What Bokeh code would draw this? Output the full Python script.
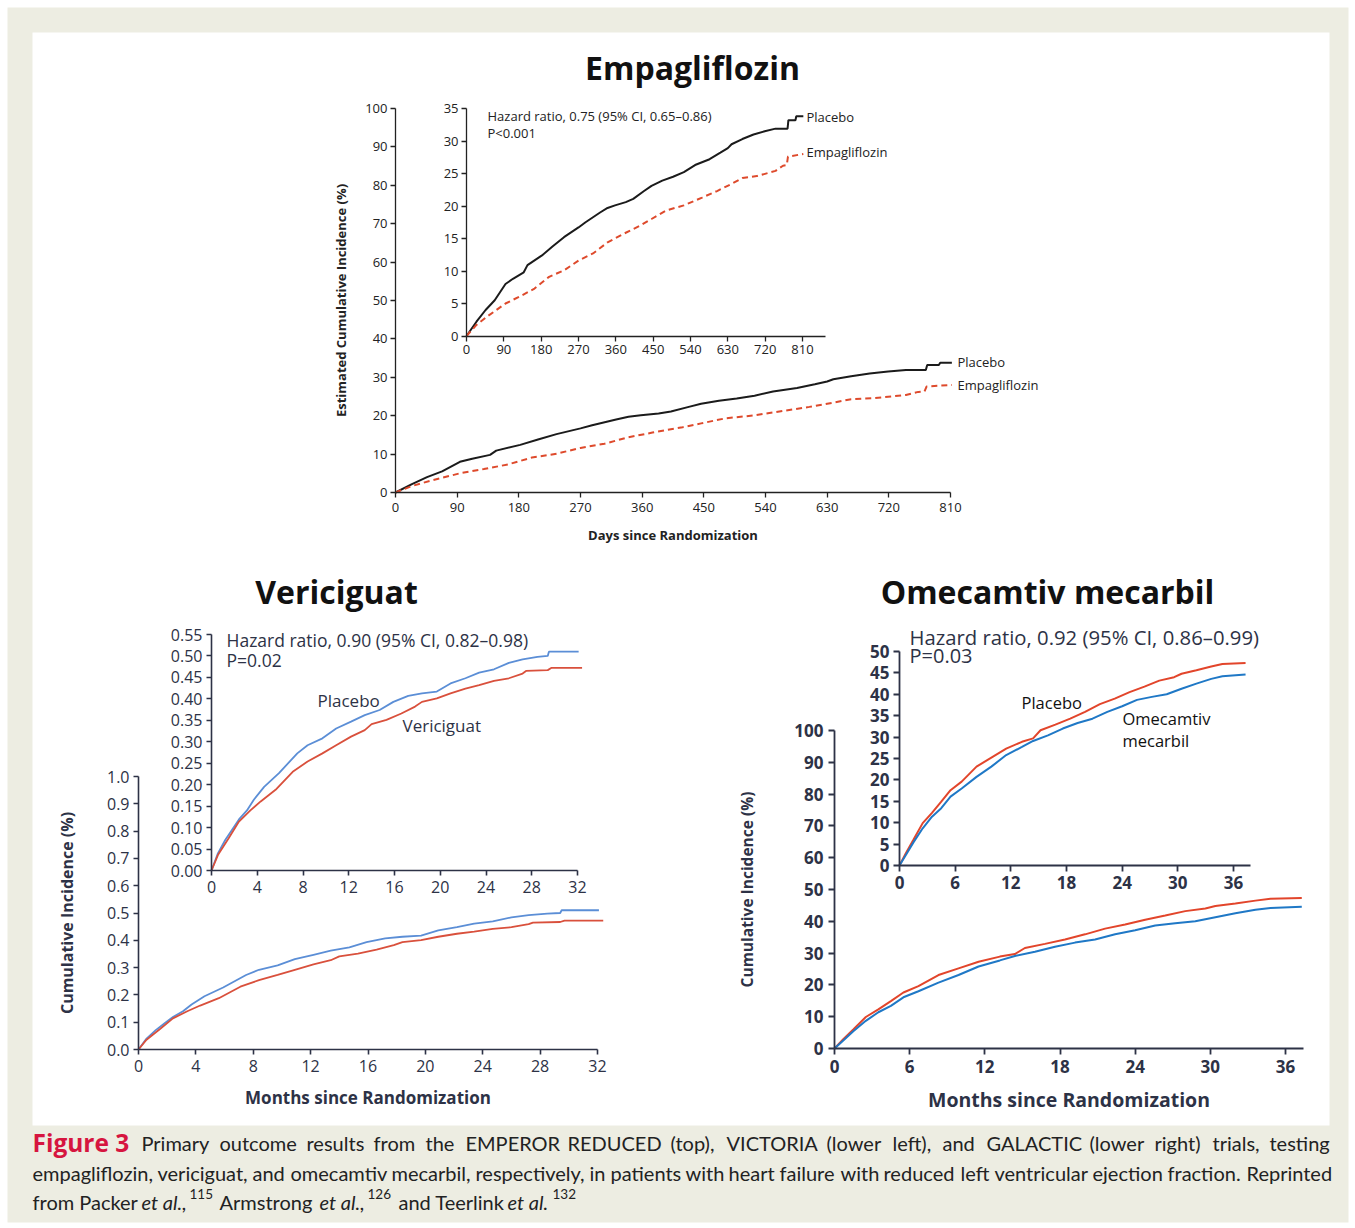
from bokeh.plotting import figure
from bokeh.models import (Range1d, LinearAxis, FixedTicker, NumeralTickFormatter,
                          Label, BoxAnnotation)
from bokeh.embed import file_html
from bokeh.resources import INLINE

# ---------------- data ----------------
# EMPEROR-Reduced (days, cumulative incidence %)
EMPA_PBO_DAYS = [0, 24, 46, 68, 94, 112, 138, 147, 182, 208, 235, 270, 287, 322, 340, 358,
                 384, 402, 428, 446, 472, 498, 524, 551, 586, 612, 630, 639, 665, 692, 719,
                 745, 774, 776, 793, 795, 812]
EMPA_PBO_PCT = [0, 2.2, 4.0, 5.5, 8.0, 8.8, 9.8, 10.9, 12.4, 13.8, 15.2, 16.7, 17.5, 19.0, 19.7,
                20.1, 20.6, 21.1, 22.3, 23.1, 23.9, 24.5, 25.2, 26.3, 27.2, 28.2, 28.9, 29.5,
                30.3, 31.0, 31.5, 31.9, 31.9, 33.2, 33.2, 33.8, 33.8]
EMPA_EMP_DAYS = [0, 24, 50, 94, 129, 164, 199, 235, 270, 305, 340, 375, 419, 446, 481, 524,
                 568, 604, 639, 665, 700, 745, 763, 772, 775, 812]
EMPA_EMP_PCT = [0, 1.7, 3.0, 5.0, 6.1, 7.3, 9.1, 10.1, 11.6, 12.7, 14.4, 15.6, 17.0, 18.0, 19.3,
                20.1, 21.3, 22.3, 23.4, 24.3, 24.6, 25.4, 26.2, 26.3, 27.6, 28.0]

# VICTORIA (months, cumulative incidence proportion)
VER_PBO_MONTHS = [0, 0.56, 1.2, 1.8, 2.4, 3.1, 3.7, 4.6, 5.9, 7.5, 8.4, 9.7, 10.9, 12.2, 13.4,
                  14.7, 15.9, 17.2, 18.4, 19.7, 20.9, 22.2, 23.4, 24.7, 26.0, 27.2, 28.5, 29.4,
                  29.5, 32.1]
VER_PBO_INC = [0, 0.040, 0.071, 0.095, 0.119, 0.140, 0.165, 0.195, 0.227, 0.273, 0.292, 0.308,
               0.331, 0.347, 0.362, 0.374, 0.393, 0.407, 0.413, 0.417, 0.436, 0.448, 0.461,
               0.469, 0.484, 0.492, 0.498, 0.500, 0.510, 0.510]
VER_VER_MONTHS = [0, 0.56, 1.5, 2.4, 3.4, 4.3, 5.6, 7.1, 8.4, 9.7, 10.9, 12.2, 13.4, 14.0, 15.3,
                  16.6, 17.8, 18.4, 19.7, 20.9, 22.2, 23.4, 24.7, 26.0, 27.2, 27.5, 29.4, 29.7,
                  32.4]
VER_VER_INC = [0, 0.036, 0.075, 0.114, 0.140, 0.161, 0.188, 0.230, 0.254, 0.273, 0.292, 0.312,
               0.327, 0.341, 0.351, 0.366, 0.382, 0.393, 0.401, 0.413, 0.424, 0.432, 0.442,
               0.448, 0.459, 0.465, 0.467, 0.472, 0.472]

# GALACTIC-HF (months, cumulative incidence %)
OME_PBO_MONTHS = [0, 0.7, 1.5, 2.5, 3.5, 4.5, 5.5, 6.7, 8.3, 9.9, 11.5, 13.2, 14.4, 15.2, 16.8,
                  18.4, 20.0, 21.6, 23.2, 24.8, 26.4, 28.0, 29.6, 30.4, 32.0, 33.6, 34.8, 37.3]
OME_PBO_PCT = [0, 2.9, 6.0, 9.9, 12.3, 14.9, 17.6, 19.6, 23.1, 25.2, 27.3, 28.9, 29.7, 31.6,
               32.9, 34.3, 35.9, 37.7, 39.0, 40.5, 41.8, 43.2, 44.0, 44.8, 45.6, 46.5, 47.1, 47.3]
OME_OM_MONTHS = [0, 0.7, 1.5, 2.5, 3.5, 4.5, 5.5, 6.7, 8.3, 9.9, 11.5, 13.2, 14.4, 16.0, 17.6,
                 19.2, 20.8, 22.4, 24.0, 25.6, 27.2, 28.8, 30.4, 32.0, 33.6, 34.8, 37.3]
OME_OM_PCT = [0, 2.5, 5.4, 8.7, 11.4, 13.4, 16.1, 18.0, 20.7, 23.1, 25.8, 27.7, 29.1, 30.4, 32.0,
              33.3, 34.3, 35.9, 37.2, 38.7, 39.4, 40.0, 41.3, 42.5, 43.6, 44.2, 44.6]

# tick labels
EMPA_X_TICKS = [0, 90, 180, 270, 360, 450, 540, 630, 720, 810]
EMPA_Y_TICKS = [0, 10, 20, 30, 40, 50, 60, 70, 80, 90, 100]
EMPA_INSET_Y_TICKS = [0, 5, 10, 15, 20, 25, 30, 35]
VER_X_TICKS = [0, 4, 8, 12, 16, 20, 24, 28, 32]
VER_Y_TICKS = [0.0, 0.1, 0.2, 0.3, 0.4, 0.5, 0.6, 0.7, 0.8, 0.9, 1.0]
VER_INSET_Y_TICKS = [0.0, 0.05, 0.10, 0.15, 0.20, 0.25, 0.30, 0.35, 0.40, 0.45, 0.50, 0.55]
OME_X_TICKS = [0, 6, 12, 18, 24, 30, 36]
OME_Y_TICKS = [0, 10, 20, 30, 40, 50, 60, 70, 80, 90, 100]
OME_INSET_Y_TICKS = [0, 5, 10, 15, 20, 25, 30, 35, 40, 45, 50]

# caption words (justified lines) with their left positions
CAP_LINE1 = [("Primary", 141), ("outcome", 219), ("results", 306), ("from", 373),
             ("the", 425), ("EMPEROR", 465), ("REDUCED", 567), ("(top),", 670),
             ("VICTORIA", 726), ("(lower", 826), ("left),", 892), ("and", 942),
             ("GALACTIC", 986), ("(lower", 1089), ("right)", 1154), ("trials,", 1212),
             ("testing", 1269)]
CAP_LINE2 = [("empagliflozin,", 32), ("vericiguat,", 157), ("and", 252), ("omecamtiv", 290),
             ("mecarbil,", 391), ("respectively,", 475), ("in", 589), ("patients", 610),
             ("with", 685), ("heart", 728), ("failure", 779), ("with", 840), ("reduced", 883),
             ("left", 960), ("ventricular", 994), ("ejection", 1092), ("fraction.", 1167),
             ("Reprinted", 1246)]
CAP_LINE3 = [("from Packer", 32, "normal"), ("et al.,", 141, "italic"),
             ("Armstrong", 219, "normal"), ("et al.,", 319, "italic"),
             ("and Teerlink", 398, "normal"), ("et al.", 507, "italic")]
CAP_REFS = [("115", 189), ("126", 367), ("132", 552)]

# ---------------- styles ----------------
BEIGE = "#EDEDE2"
EMPA_BLACK = "#1b1b1b"
EMPA_RED = "#DE4A2C"
VER_BLUE = "#5B8ED6"
VER_RED = "#D9503C"
OME_RED = "#E2452B"
OME_BLUE = "#1F78C6"
TXT_DARK = "#222222"
TXT_NAVY = "#2d3246"
CRIMSON = "#D6153F"

W, H = 1352, 1226
X0, Y0 = 0, 0
X1, Y1 = X0 + W, Y0 + H

p = figure(width=W, height=H, x_range=Range1d(X0, X1), y_range=Range1d(Y1, Y0),
           output_backend="svg", toolbar_location=None, x_axis_type=None, y_axis_type=None,
           min_border=0, outline_line_color=None,
           background_fill_color="white", border_fill_color="white")

p.add_layout(BoxAnnotation(left=7, right=1348, top=7, bottom=1222, fill_color=BEIGE,
                           fill_alpha=1.0, line_color=None, level="underlay"))
p.add_layout(BoxAnnotation(left=32, right=1329, top=32, bottom=1125, fill_color="white",
                           fill_alpha=1.0, line_color=None, level="underlay"))


def subplot(name, xd, xp, yd, yp):
    """xd=(d0,d1) data mapped to page px xp=(a,b); yd=(e0,e1) mapped to page px yp=(bottom,top)."""
    d0, d1 = xd
    a, b = xp
    sx = (d1 - d0) / (b - a)
    p.extra_x_ranges[name] = Range1d(d0 - (a - X0) * sx, d1 + (X1 - b) * sx)
    e0, e1 = yd
    c, d = yp
    sy = (e1 - e0) / (c - d)
    p.extra_y_ranges[name] = Range1d(e0 - (Y1 - c) * sy, e1 + (d - Y0) * sy)


def axes(name, xticks, yticks, xbounds, ybounds, font, size, color, style="normal",
         xlabel=None, ylabel=None, xlab_size="12px", ylab_size="12px", xfmt=None, yfmt=None,
         lw=1.3, tick_out=5, x_stand=12, y_stand=12, x_lab_off=3, y_lab_off=3):
    common = dict(x_range_name=name, y_range_name=name, axis_line_color=color,
                  axis_line_width=lw, major_tick_line_color=color, major_tick_line_width=lw,
                  major_tick_out=tick_out, major_tick_in=0, minor_tick_line_color=None,
                  major_label_text_font=font, major_label_text_font_size=size,
                  major_label_text_color=color, major_label_text_font_style=style,
                  axis_label_text_font=font, axis_label_text_font_style="bold",
                  axis_label_text_color=color)
    xa = LinearAxis(fixed_location=ybounds[0], bounds=xbounds,
                    ticker=FixedTicker(ticks=xticks), axis_label=xlabel,
                    axis_label_standoff=x_stand, major_label_standoff=x_lab_off,
                    axis_label_text_font_size=xlab_size, **common)
    if xfmt:
        xa.formatter = NumeralTickFormatter(format=xfmt)
    ya = LinearAxis(fixed_location=xbounds[0], bounds=ybounds,
                    ticker=FixedTicker(ticks=yticks), axis_label=ylabel,
                    axis_label_standoff=y_stand, major_label_standoff=y_lab_off,
                    axis_label_text_font_size=ylab_size, **common)
    if yfmt:
        ya.formatter = NumeralTickFormatter(format=yfmt)
    p.add_layout(xa, "below")
    p.add_layout(ya, "left")


def label(x, y, text, size, color=TXT_DARK, font="Open Sans", style="normal", align="left"):
    p.add_layout(Label(x=x, y=y, text=text, text_font=font, text_font_size=size,
                       text_color=color, text_font_style=style, text_align=align,
                       text_baseline="middle"))


# ---------------- Empagliflozin ----------------
subplot("em_main", (0, 810), (395, 950), (0, 100), (492, 108))
subplot("em_in", (0, 810), (466, 802), (0, 35), (335.5, 108))
axes("em_main", EMPA_X_TICKS, EMPA_Y_TICKS, (0, 810), (0, 100), "Open Sans", "13px", TXT_DARK,
     xlabel="Days since Randomization", ylabel="Estimated Cumulative Incidence (%)",
     xlab_size="13px", ylab_size="13px", x_stand=11, y_stand=12, x_lab_off=5, y_lab_off=3)
axes("em_in", EMPA_X_TICKS, EMPA_INSET_Y_TICKS, (0, 866), (0, 35), "Open Sans", "13px",
     TXT_DARK, x_lab_off=4, y_lab_off=3)
for nm in ("em_main", "em_in"):
    p.line(EMPA_PBO_DAYS, EMPA_PBO_PCT, x_range_name=nm, y_range_name=nm,
           line_color=EMPA_BLACK, line_width=2)
    p.line(EMPA_EMP_DAYS, EMPA_EMP_PCT, x_range_name=nm, y_range_name=nm,
           line_color=EMPA_RED, line_width=2, line_dash="6 4")

label(692, 67, "Empagliflozin", "32px", color="#111111", style="bold", align="center")
label(487, 115, "Hazard ratio, 0.75 (95% CI, 0.65\u20130.86)", "13px")
label(487, 132, "P<0.001", "13px")
label(806, 116, "Placebo", "13px")
label(806, 151, "Empagliflozin", "13px")
label(957, 361, "Placebo", "13px")
label(957, 384, "Empagliflozin", "13px")

# ---------------- Vericiguat ----------------
subplot("ve_main", (0, 32), (138, 597), (0, 1.0), (1049, 776))
subplot("ve_in", (0, 32), (211, 577), (0, 0.55), (870, 634))
axes("ve_main", VER_X_TICKS, VER_Y_TICKS, (0, 32), (0, 1.0), "Open Sans", "16px", TXT_NAVY,
     xlabel="Months since Randomization", ylabel="Cumulative Incidence (%)",
     xlab_size="17px", ylab_size="16px", yfmt="0.0", lw=1.6, x_stand=11, y_stand=26,
     x_lab_off=5, y_lab_off=4)
axes("ve_in", VER_X_TICKS, VER_INSET_Y_TICKS, (0, 32), (0, 0.55), "Open Sans", "16px",
     TXT_NAVY, yfmt="0.00", lw=1.6, x_lab_off=5, y_lab_off=4)
for nm in ("ve_main", "ve_in"):
    p.line(VER_PBO_MONTHS, VER_PBO_INC, x_range_name=nm, y_range_name=nm,
           line_color=VER_BLUE, line_width=1.8)
    p.line(VER_VER_MONTHS, VER_VER_INC, x_range_name=nm, y_range_name=nm,
           line_color=VER_RED, line_width=1.8)

label(336, 591, "Vericiguat", "32px", color="#111111", style="bold", align="center")
label(226, 639, "Hazard ratio, 0.90 (95% CI, 0.82\u20130.98)", "17.5px", color=TXT_NAVY)
label(226, 659, "P=0.02", "17.5px", color=TXT_NAVY)
label(317, 700, "Placebo", "17px", color=TXT_NAVY)
label(402, 725, "Vericiguat", "17px", color=TXT_NAVY)

# ---------------- Omecamtiv mecarbil ----------------
subplot("om_main", (0, 36), (834, 1285), (0, 100), (1048, 730))
subplot("om_in", (0, 36), (899, 1233), (0, 50), (865, 651))
axes("om_main", OME_X_TICKS, OME_Y_TICKS, (0, 37.4), (0, 100), "Open Sans", "17px", TXT_NAVY,
     style="bold", xlabel="Months since Randomization", ylabel="Cumulative Incidence (%)",
     xlab_size="19.5px", ylab_size="15.5px", lw=1.8, tick_out=6, x_stand=10, y_stand=33,
     x_lab_off=5, y_lab_off=5)
axes("om_in", OME_X_TICKS, OME_INSET_Y_TICKS, (0, 37.8), (0, 50), "Open Sans", "17px",
     TXT_NAVY, style="bold", lw=1.8, tick_out=6, x_lab_off=4, y_lab_off=4)
for nm in ("om_main", "om_in"):
    p.line(OME_PBO_MONTHS, OME_PBO_PCT, x_range_name=nm, y_range_name=nm,
           line_color=OME_RED, line_width=2)
    p.line(OME_OM_MONTHS, OME_OM_PCT, x_range_name=nm, y_range_name=nm,
           line_color=OME_BLUE, line_width=2)

label(1047, 591, "Omecamtiv mecarbil", "32px", color="#111111", style="bold", align="center")
label(909, 636, "Hazard ratio, 0.92 (95% CI, 0.86\u20130.99)", "20.3px", color=TXT_NAVY)
label(909, 655, "P=0.03", "20px", color=TXT_NAVY)
label(1021, 702, "Placebo", "16.5px", color="#111111")
label(1122, 718, "Omecamtiv", "16.5px", color="#111111")
label(1122, 740, "mecarbil", "16.5px", color="#111111")

# ---------------- caption ----------------
CAP = "Lato"
CS = "20px"
label(32, 1142, "Figure 3", "24.5px", color=CRIMSON, font="Open Sans", style="bold")
for word, x in CAP_LINE1:
    label(x, 1142, word, CS, font=CAP)
for word, x in CAP_LINE2:
    label(x, 1172, word, CS, font=CAP)
for text, x, st in CAP_LINE3:
    label(x, 1201, text, CS, font=CAP, style=st)
for ref, x in CAP_REFS:
    label(x, 1193, ref, "13.5px", font=CAP)

open("out.html", "w").write(file_html(p, INLINE))
